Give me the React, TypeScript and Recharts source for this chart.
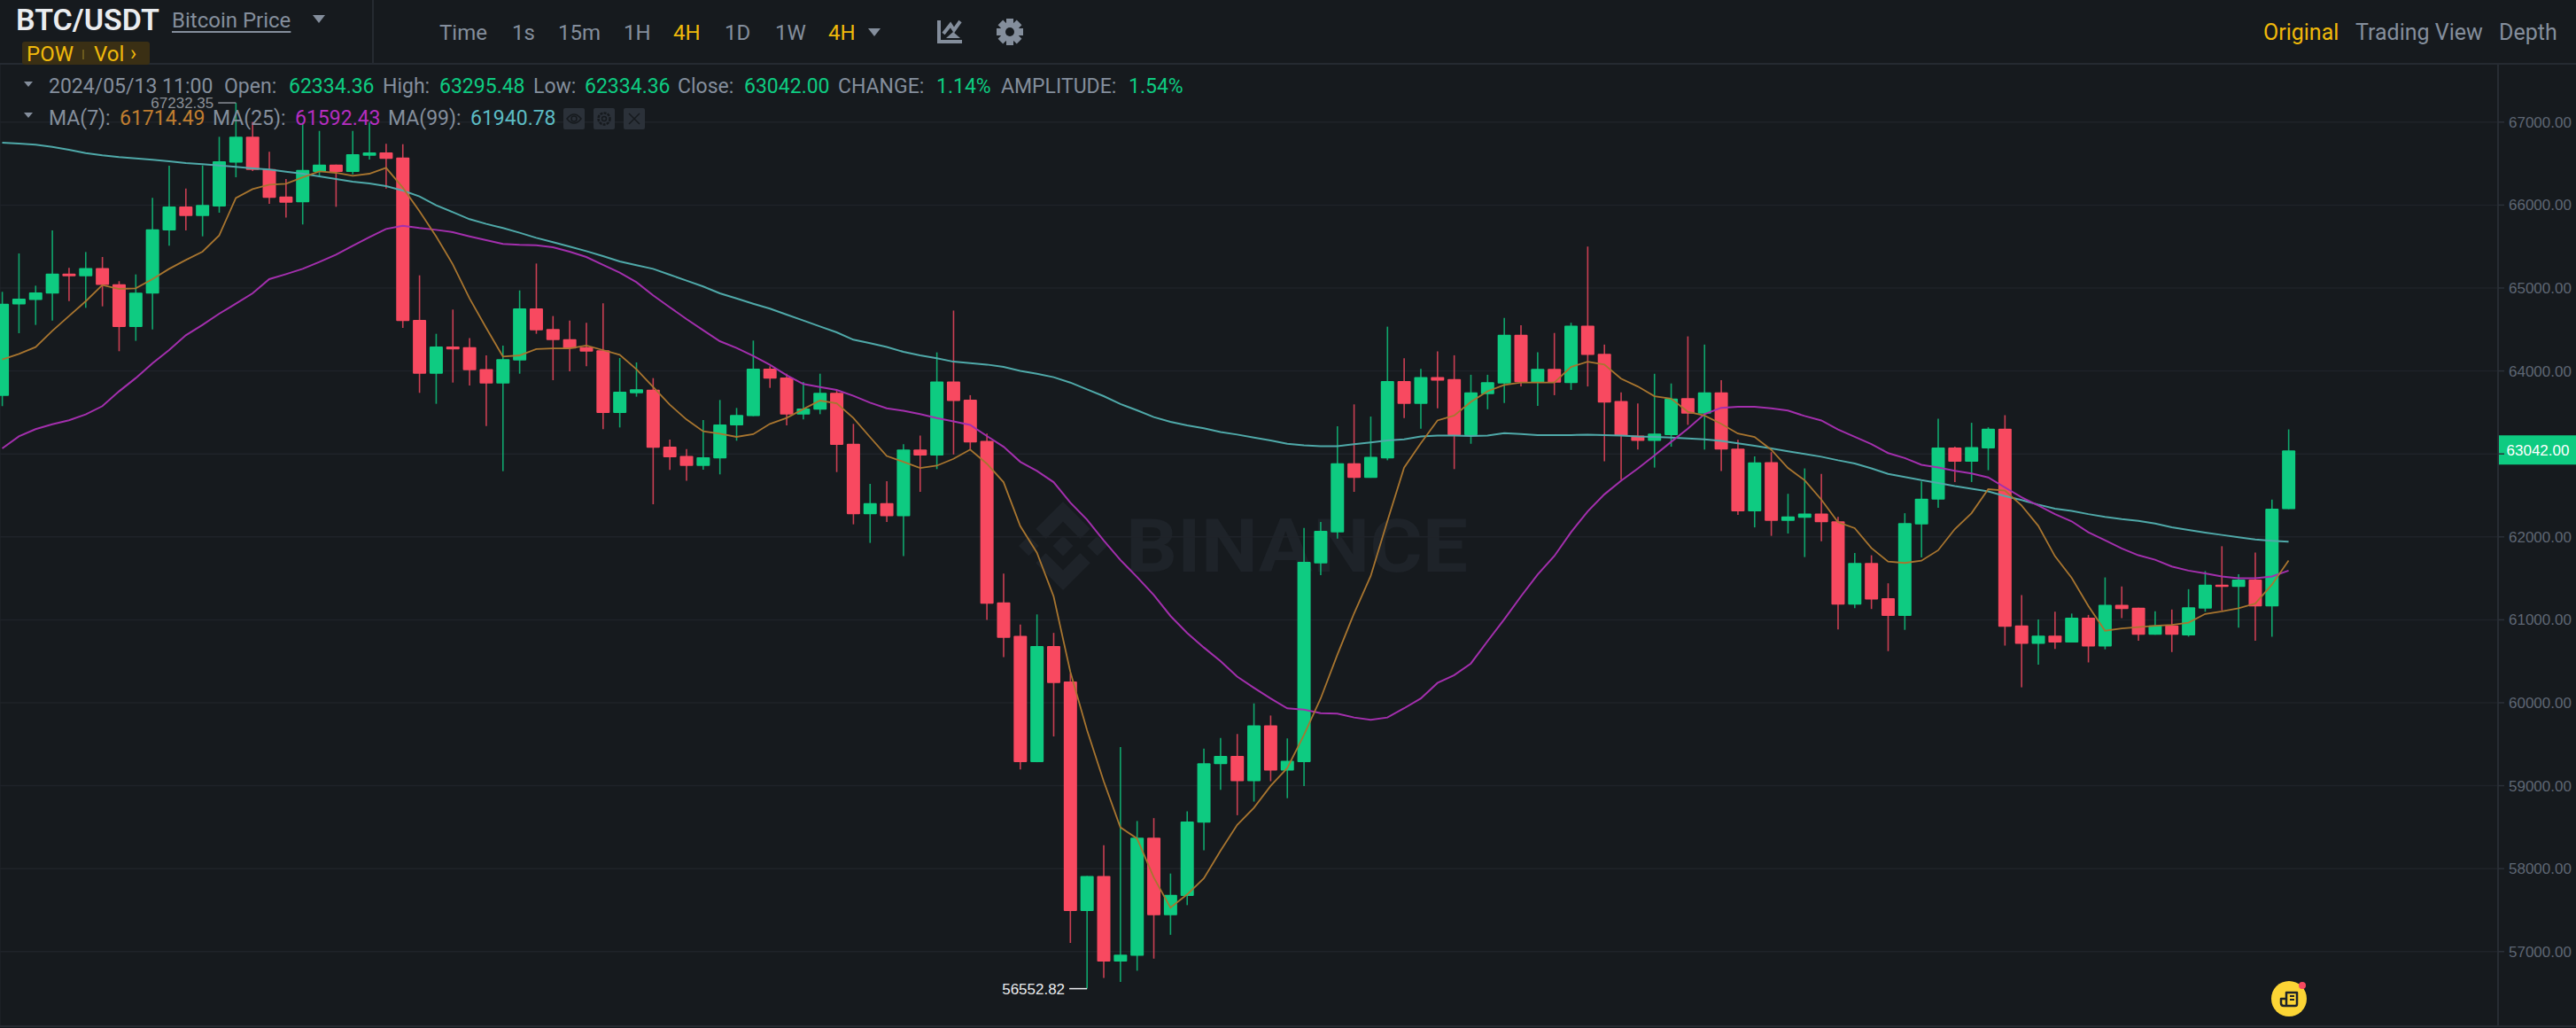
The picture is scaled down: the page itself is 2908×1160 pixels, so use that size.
import React from 'react';
import { ComposedChart, Bar, Line, XAxis, YAxis, CartesianGrid, ReferenceDot, ReferenceLine } from 'recharts';

const W = 2908;
const H = 1160;
const UP = '#0ECB81';
const DOWN = '#F84960';
const GRID = '#1F2329';
const GRAY = '#848E9C';
const YELLOW = '#F0B90B';
const BG = '#161A1E';

const opens = [
  63700, 64801, 64857, 64932, 65174, 65142, 65239, 65046, 64530, 64932, 65694, 65983, 65869, 65983, 66513, 66823, 66435, 66104, 66033, 66399,
  66488, 66399, 66595, 66634, 66574, 64615, 63967, 64295, 64288, 64021, 63850, 64127, 64754, 64505, 64384, 64288, 64249, 63494, 63732, 63775,
  63088, 62974, 62856, 62945, 63344, 63455, 64028, 63921, 63476, 63533, 63736, 63123, 62272, 62407, 62249, 63052, 62981, 63872, 63655, 63157,
  61211, 60807, 59283, 60684, 60256, 57489, 57911, 56880, 56950, 58374, 57437, 57671, 58556, 59259, 59359, 59054, 59728, 59183, 59283, 61680,
  62055, 62887, 62712, 62946, 63878, 63602, 63925, 63901, 63227, 63720, 63849, 64435, 63860, 64024, 63855, 64546, 64206, 63638, 63221, 63157,
  63227, 63673, 63485, 63743, 63063, 62307, 62901, 62192, 62231, 62280, 62187, 61184, 61685, 61260, 61048, 62149, 62449, 63076, 62906, 63065,
  63304, 60933, 60710, 60808, 60726, 61026, 60677, 61179, 61146, 60819, 60933, 60813, 61135, 61424, 61396, 61484, 61162, 62334.36,
];
const highs = [
  64954, 65417, 65028, 65694, 65242, 65434, 65374, 65082, 65164, 66086, 66474, 66200, 66478, 66823, 67232.35, 67000, 66642, 66314, 66994, 66894,
  66488, 66894, 66994, 66738, 66734, 65153, 64448, 64740, 64395, 64188, 64306, 64971, 65295, 64662, 64608, 64580, 64815, 64156, 64103, 63914,
  63173, 63059, 63408, 63650, 63554, 64366, 64056, 63967, 63867, 63967, 63771, 63362, 62639, 62671, 63116, 63221, 64224, 64728, 63708, 63245,
  61557, 60942, 61065, 60842, 60355, 57911, 58281, 59465, 58574, 58609, 57941, 58691, 59447, 59576, 59623, 59992, 59846, 59570, 62108, 62178,
  63333, 63597, 63450, 64534, 64153, 64024, 64235, 64189, 63954, 63954, 64640, 64552, 64224, 64458, 64581, 65500, 64318, 63743, 63608, 63966,
  63849, 64417, 64318, 63890, 63169, 62970, 63021, 62519, 62825, 62759, 62241, 61805, 61778, 61440, 62285, 62667, 63424, 63087, 63375, 63321,
  63468, 61298, 61004, 61097, 61075, 61059, 61511, 61402, 61146, 61102, 61124, 61369, 61587, 61887, 61549, 61811, 62449, 63295.48,
];
const lows = [
  63576, 64455, 64555, 64608, 64843, 64761, 64779, 64238, 64363, 64501, 65509, 65694, 65623, 65908, 66335, 66410, 66015, 65848, 65766, 66346,
  65979, 66371, 66549, 66200, 64519, 63736, 63604, 63860, 63825, 63337, 62792, 63967, 64448, 63889, 63996, 64056, 63298, 63319, 63690, 62393,
  62806, 62675, 62810, 62753, 63159, 63455, 63796, 63344, 63415, 63479, 62781, 62151, 61927, 62178, 61768, 62542, 62817, 62993, 63057, 61000,
  60549, 59195, 59283, 59594, 57103, 56552.82, 56681, 56634, 56769, 56915, 57202, 57560, 58222, 58949, 58644, 58808, 59054, 58849, 58996, 61539,
  61979, 62542, 62712, 62923, 63432, 63304, 63550, 62817, 63122, 63538, 63614, 63813, 63579, 63708, 63772, 63813, 62911, 62688, 63052, 62835,
  63087, 63350, 63052, 62794, 62266, 62114, 62012, 62040, 61756, 61947, 60884, 61140, 61130, 60622, 60879, 61751, 62350, 62661, 62661, 62803,
  60688, 60186, 60459, 60650, 60726, 60486, 60644, 61020, 60748, 60819, 60611, 60797, 61097, 61113, 60906, 60748, 60797, 62334.36,
];
const closes = [
  64811, 64872, 64947, 65174, 65142, 65239, 65036, 64530, 64943, 65709, 65983, 65869, 66001, 66528, 66823, 66424, 66086, 66029, 66424, 66488,
  66399, 66613, 66634, 66556, 64601, 63967, 64295, 64259, 64010, 63850, 64142, 64754, 64491, 64373, 64270, 64234, 63494, 63750, 63779, 63073,
  62959, 62856, 62959, 63355, 63469, 64028, 63907, 63476, 63547, 63736, 63109, 62272, 62407, 62249, 63052, 62981, 63872, 63638, 63139, 61194,
  60783, 59283, 60684, 60238, 57489, 57911, 56880, 56962, 58374, 57437, 57683, 58568, 59271, 59359, 59054, 59728, 59183, 59301, 61698, 62073,
  62887, 62712, 62964, 63878, 63602, 63925, 63884, 63227, 63743, 63866, 64435, 63866, 64024, 63860, 64546, 64194, 63620, 63221, 63157, 63245,
  63667, 63485, 63743, 63052, 62307, 62899, 62192, 62247, 62280, 62176, 61184, 61685, 61244, 61048, 62165, 62460, 63076, 62906, 63081, 63304,
  60917, 60710, 60808, 60726, 61026, 60677, 61179, 61130, 60819, 60933, 60819, 61151, 61424, 61396, 61484, 61162, 62340, 63042,
];
const ma7 = [
  64138, 64206, 64288, 64484, 64662, 64840, 65036, 64989, 64996, 65107, 65231, 65338, 65438, 65634, 66086, 66193, 66246, 66257, 66335, 66407,
  66389, 66353, 66378, 66449, 66211, 65926, 65623, 65285, 64875, 64519, 64174, 64188, 64263, 64273, 64273, 64306, 64252, 64195, 64021, 63807,
  63593, 63415, 63273, 63244, 63205, 63237, 63362, 63433, 63540, 63643, 63611, 63433, 63202, 62975, 62905, 62829, 62858, 62940, 63052, 62882,
  62659, 62131, 61809, 61282, 60373, 59670, 59054, 58498, 58363, 57894, 57530, 57689, 57882, 58216, 58527, 58732, 58996, 59213, 59611, 60051,
  60578, 61076, 61528, 62190, 62835, 63128, 63403, 63462, 63626, 63755, 63831, 63860, 63860, 63860, 64048, 64112, 64077, 63907, 63813, 63696,
  63667, 63509, 63462, 63362, 63245, 63204, 63050, 62830, 62683, 62449, 62176, 62105, 61865, 61702, 61685, 61713, 61838, 62094, 62285, 62574,
  62558, 62378, 62133, 61767, 61506, 61168, 60868, 60895, 60911, 60928, 60939, 60966, 61070, 61102, 61140, 61195, 61424, 61714.49,
];
const ma25 = [
  63066, 63212, 63298, 63358, 63405, 63476, 63576, 63754, 63914, 64092, 64252, 64430, 64555, 64690, 64811, 64936, 65107, 65167, 65231, 65313,
  65402, 65509, 65612, 65712, 65751, 65723, 65701, 65673, 65623, 65577, 65531, 65520, 65516, 65491, 65438, 65374, 65278, 65185, 65071, 64911,
  64768, 64626, 64491, 64359, 64277, 64181, 64074, 63949, 63843, 63807, 63771, 63700, 63618, 63550, 63520, 63479, 63432, 63391, 63350, 63216,
  63087, 62905, 62794, 62659, 62413, 62208, 61956, 61721, 61516, 61299, 61047, 60842, 60666, 60502, 60315, 60180, 60051, 59933, 59916, 59875,
  59869, 59822, 59793, 59822, 59933, 60051, 60238, 60332, 60473, 60742, 61006, 61282, 61545, 61768, 62055, 62307, 62512, 62676, 62823, 62981,
  63145, 63304, 63479, 63556, 63567, 63567, 63550, 63522, 63457, 63403, 63294, 63206, 63119, 63010, 62950, 62868, 62836, 62797, 62765, 62716,
  62596, 62476, 62378, 62274, 62187, 62056, 61958, 61860, 61778, 61724, 61642, 61593, 61560, 61522, 61500, 61500, 61522, 61592.43,
];
const ma99 = [
  66752, 66741, 66727, 66702, 66667, 66627, 66599, 66578, 66563, 66546, 66528, 66506, 66492, 66478, 66460, 66442, 66428, 66403, 66378, 66346,
  66314, 66282, 66261, 66229, 66175, 66104, 65997, 65915, 65830, 65773, 65723, 65666, 65605, 65552, 65499, 65445, 65385, 65321, 65274, 65231,
  65160, 65089, 65018, 64936, 64875, 64811, 64751, 64680, 64608, 64537, 64466, 64377, 64334, 64290, 64230, 64189, 64153, 64112, 64095, 64077,
  64048, 64001, 63966, 63925, 63860, 63778, 63696, 63602, 63526, 63444, 63386, 63345, 63309, 63263, 63233, 63198, 63163, 63122, 63104, 63093,
  63093, 63116, 63139, 63163, 63175, 63210, 63221, 63221, 63216, 63221, 63251, 63239, 63227, 63227, 63227, 63233, 63227, 63221, 63210, 63204,
  63198, 63186, 63175, 63157, 63128, 63098, 63065, 63032, 62999, 62966, 62923, 62885, 62825, 62759, 62721, 62683, 62650, 62612, 62579, 62547,
  62492, 62443, 62389, 62340, 62312, 62274, 62241, 62214, 62192, 62160, 62116, 62083, 62051, 62023, 61996, 61969, 61953, 61940.78,
];
const priceTicks = [57000, 58000, 59000, 60000, 61000, 62000, 63000, 64000, 65000, 66000, 67000];
const timeTicks = [3, 9, 15, 21, 27, 33, 39, 45, 51, 57, 63, 69, 75, 81, 87, 93, 99, 105, 111, 117, 123, 129, 135, 141, 147];

const periods = [
  ['Time', 496, GRAY], ['1s', 578, GRAY], ['15m', 630, GRAY], ['1H', 704, GRAY], ['4H', 760, YELLOW],
  ['1D', 818, GRAY], ['1W', 875, GRAY], ['4H', 935, YELLOW],
];
const views = [['Original', 2555, YELLOW], ['Trading View', 2659, GRAY], ['Depth', 2821, GRAY]];
const ohlcRow = [
  ['2024/05/13 11:00', 55, GRAY], ['Open:', 253, GRAY], ['62334.36', 326, UP], ['High:', 432, GRAY], ['63295.48', 496, UP],
  ['Low:', 602, GRAY], ['62334.36', 660, UP], ['Close:', 765, GRAY], ['63042.00', 840, UP], ['CHANGE:', 946, GRAY],
  ['1.14%', 1057, UP], ['AMPLITUDE:', 1130, GRAY], ['1.54%', 1274, UP],
];
const maRow = [
  ['MA(7):', 55, GRAY], ['61714.49', 135, '#C07E30'], ['MA(25):', 240, GRAY], ['61592.43', 333, '#B52DC0'],
  ['MA(99):', 438, GRAY], ['61940.78', 531, '#5CBCC4'],
];

const table = opens.map((open, i) => ({
  i,
  open,
  close: closes[i],
  high: highs[i],
  low: lows[i],
  range: [lows[i], highs[i]],
  ma7: ma7[i],
  ma25: ma25[i],
  ma99: ma99[i],
}));

const Candle = (props: any) => {
  const { x, y, width, height, payload } = props;
  const { open, close, high, low } = payload;
  const k = height / (high - low);
  const color = close >= open ? UP : DOWN;
  const top = y + (high - Math.max(open, close)) * k;
  const bodyH = Math.max(Math.abs(open - close) * k, 1);
  const cx = x + width / 2;
  return (
    <g>
      <line x1={cx} x2={cx} y1={y} y2={y + height} stroke={color} strokeOpacity={0.8} strokeWidth={1.6} />
      <rect x={x} y={top} width={width} height={bodyH} fill={color} rx={1} />
    </g>
  );
};

const extreme = (fill: string) => (props: any) => {
  const { cx, cy, payload } = props;
  return (
    <g>
      <line x1={cx - 20} x2={cx} y1={cy} y2={cy} stroke={fill} strokeWidth={1.5} />
      <text x={cx - 25} y={cy + 6} textAnchor="end" fontSize={17} fontFamily="Liberation Sans" fill={fill}>
        {payload}
      </text>
    </g>
  );
};

const HighMark = (props: any) => extreme('#8A8F96')({ ...props, payload: '67232.35' });
const LowMark = (props: any) => extreme('#EAECEF')({ ...props, payload: '56552.82' });

const PriceTag = (props: any) => {
  const { x, y, width } = props.viewBox;
  const right = x + width;
  return (
    <g>
      <rect x={right + 1} y={y - 17} width={88} height={33} fill={UP} />
      <text x={right + 45} y={y + 6} textAnchor="middle" fontSize={17} fontFamily="Liberation Sans" fill="#FFFFFF">
        63042.00
      </text>
    </g>
  );
};

const Txt = ({ left, top, size = 23, color = GRAY, weight = 400, children, style }: any) => (
  <span
    style={{
      position: 'absolute',
      left,
      top,
      transform: 'translateY(-50%)',
      fontFamily: 'Roboto',
      fontSize: size,
      color,
      fontWeight: weight,
      whiteSpace: 'nowrap',
      lineHeight: 1,
      ...style,
    }}
  >
    {children}
  </span>
);

const Caret = ({ left, top, color = GRAY, size = 7 }: any) => (
  <div
    style={{
      position: 'absolute',
      left: left - size,
      top: top - size / 2,
      width: 0,
      height: 0,
      borderLeft: `${size}px solid transparent`,
      borderRight: `${size}px solid transparent`,
      borderTop: `${size * 1.3}px solid ${color}`,
    }}
  />
);

const Watermark = () => (
  <svg style={{ position: 'absolute', left: 0, top: 0 }} width={W} height={H}>
    <g transform="translate(1150,566) scale(0.79)" fill="#1E2329">
      <path d="M38.73 53.2l24.59-24.58 24.6 24.6 14.3-14.31L63.32 0 24.43 38.9l14.3 14.3zM0 63.31l14.3-14.31 14.31 14.31-14.31 14.3zM38.73 73.41l24.59 24.59 24.6-24.6 14.31 14.29-38.9 38.91-38.91-38.88-.02-.02zM98.02 63.31l14.3-14.31 14.31 14.3-14.31 14.32zM77.83 63.3L63.32 48.78 52.59 59.51l-1.24 1.23-2.54 2.54 14.51 14.5 14.51-14.47z" />
    </g>
    <text x={1271} y={645} fontSize={83} fontWeight={700} fontFamily="Roboto" fill="#1E2329" textLength={386} lengthAdjust="spacingAndGlyphs">
      BINANCE
    </text>
  </svg>
);

const gearTeeth = [0, 45, 90, 135];

// toolbar, legend and help-button glyphs, drawn over the chart
const Icons = () => (
  <svg style={{ position: 'absolute', left: 0, top: 0 }} width={W} height={H}>
    {/* indicators icon */}
    <path d="M1060 23V47H1086" fill="none" stroke={GRAY} strokeWidth={4} />
    <path d="M1065 38L1073 28L1077 34L1084 24" fill="none" stroke={GRAY} strokeWidth={4} />
    <path d="M1068 43L1076 36L1084 43Z" fill={GRAY} />
    {/* settings icon */}
    <g transform="translate(1140,36)">
      {gearTeeth.map((a) => (
        <rect key={a} x={-4} y={-15} width={8} height={30} fill={GRAY} transform={`rotate(${a})`} />
      ))}
      <circle r={11} fill={GRAY} />
      <circle r={5} fill={BG} />
    </g>
    {/* legend buttons: hide, settings, close */}
    {[636, 670, 704].map((x) => (
      <rect key={x} x={x} y={122} width={24} height={24} rx={2} fill="#2B3139" />
    ))}
    <g fill="none" stroke="#161A1E" strokeWidth={1.5}>
      <path d="M640 134Q648 124 656 134Q648 144 640 134Z" />
      <circle cx={648} cy={134} r={3} />
      <circle cx={682} cy={134} r={6.5} strokeDasharray="3 1.2" strokeWidth={2.5} />
      <circle cx={682} cy={134} r={2.5} />
      <path d="M710 128L722 140M722 128L710 140" />
    </g>
    {/* news button */}
    <circle cx={2584} cy={1127} r={20} fill="#FCD535" />
    <circle cx={2599} cy={1112} r={4} fill={DOWN} />
    <g fill="none" stroke="#1E2329" strokeWidth={2.5} strokeLinejoin="round">
      <path d="M2581 1127V1120H2593V1133Q2593 1135 2591 1135H2578Q2575 1135 2575 1132V1127Z" />
      <path d="M2581 1127V1135" />
      <path d="M2585 1124H2590M2585 1128H2590" strokeWidth={1.8} />
    </g>
  </svg>
);

const App = () => (
  <div style={{ position: 'relative', width: W, height: H, background: BG, overflow: 'hidden' }}>
    <style>{'body{margin:0}'}</style>
    <Watermark />
    <div style={{ position: 'absolute', left: 0, top: 0 }}>
      <ComposedChart width={W} height={H} data={table} margin={{ top: 72, right: 0, bottom: 2, left: 0 }}>
        <CartesianGrid stroke={GRID} strokeWidth={1.5} />
        <XAxis
          dataKey="i"
          type="number"
          domain={[-0.133, 149.55]}
          ticks={timeTicks}
          allowDataOverflow
          tick={false}
          tickLine={false}
          axisLine={false}
          height={0}
        />
        <YAxis
          orientation="right"
          width={88}
          domain={[56100, 67703]}
          ticks={priceTicks}
          allowDataOverflow
          tickFormatter={(v: number) => (v === 63000 ? '' : v.toFixed(2))}
          tick={{ fill: '#5E6673', fontSize: 17, fontFamily: 'Liberation Sans' }}
          tickLine={{ stroke: '#2B3139', strokeWidth: 1.5 }}
          tickSize={7}
          tickMargin={5}
          axisLine={{ stroke: '#2B3139', strokeWidth: 1.5 }}
        />
        <Bar dataKey="range" barSize={15} shape={Candle} isAnimationActive={false} />
        <Line dataKey="ma99" stroke="#4FA9A9" strokeWidth={2} dot={false} type="linear" isAnimationActive={false} />
        <Line dataKey="ma25" stroke="#A32FAD" strokeWidth={2} dot={false} type="linear" isAnimationActive={false} />
        <Line dataKey="ma7" stroke="#A8752F" strokeWidth={1.8} dot={false} type="linear" isAnimationActive={false} />
        <ReferenceDot x={14} y={67232.35} r={0} ifOverflow="visible" shape={HighMark} />
        <ReferenceDot x={65} y={56552.82} r={0} ifOverflow="visible" shape={LowMark} />
        <ReferenceLine y={63042} stroke="none" label={{ content: PriceTag }} />
      </ComposedChart>
    </div>

    <div style={{ position: 'absolute', left: 0, top: 71, width: W, height: 2, background: '#252A31' }} />
    <div style={{ position: 'absolute', left: 0, top: 1157, width: W, height: 2, background: '#252A31' }} />
    <div style={{ position: 'absolute', left: 420, top: 0, width: 1.5, height: 72, background: '#252A31' }} />

    <Txt left={18} top={22} size={34} color="#EAECEF" weight={600}>BTC/USDT</Txt>
    <Txt left={194} top={23} size={24} style={{ textDecoration: 'underline', textUnderlineOffset: 4 }}>Bitcoin Price</Txt>
    <Caret left={360} top={20} />
    <div style={{ position: 'absolute', left: 25, top: 47, width: 144, height: 26, background: '#3A2F14', borderRadius: 3 }} />
    <Txt left={30} top={61} size={24} color={YELLOW}>POW</Txt>
    <div style={{ position: 'absolute', left: 93, top: 56, width: 2, height: 11, background: '#6B5A1E' }} />
    <Txt left={106} top={61} size={24} color={YELLOW}>Vol</Txt>
    <Txt left={147} top={60} size={24} color={YELLOW}>›</Txt>

    {periods.map(([t, x, c], k) => <Txt key={k} left={x} top={37} size={24} color={c}>{t}</Txt>)}
    <Caret left={987} top={35} />
    {views.map(([t, x, c], k) => <Txt key={k} left={x} top={36} size={25} color={c}>{t}</Txt>)}

    <Caret left={32} top={94} size={5} />
    {ohlcRow.map(([t, x, c], k) => <Txt key={k} left={x} top={97} color={c}>{t}</Txt>)}
    <Caret left={32} top={129} size={5} />
    {maRow.map(([t, x, c], k) => <Txt key={k} left={x} top={133} color={c}>{t}</Txt>)}

    <Icons />
  </div>
);

export default App;
